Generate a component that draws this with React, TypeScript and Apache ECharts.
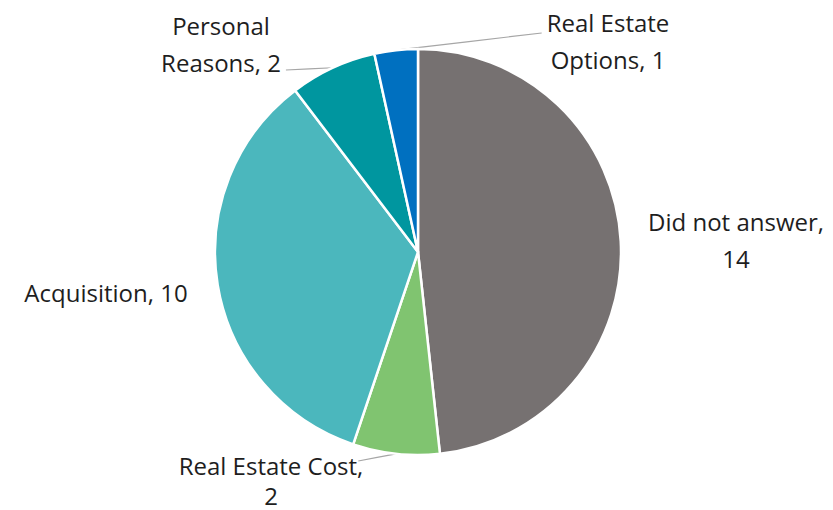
import React, { useEffect, useRef } from "react";
import * as echarts from "echarts";

const categories = ["Did not answer", "Real Estate Cost", "Acquisition", "Personal Reasons", "Real Estate Options"];
const values = [14, 2, 10, 2, 1];
const colors = ["#767171", "#80C470", "#4BB7BD", "#00969F", "#0070C0"];
// label text line breaks (how each label is wrapped)
const labelTexts = ["Did not answer,\n14", "Real Estate Cost,\n2", "Acquisition, 10", "Personal\nReasons, 2", "Real Estate\nOptions, 1"];
const showLines = [false, true, false, true, true];
const labelLineHeights = [37, 30, 37, 37, 37];
// label anchor positions (centre of text block)
const labelPos = [
  [736, 240],
  [271, 480],
  [106, 292],
  [221, 44],
  [608, 41],
];
// where each leader line meets its label: [side of label (-1 left, 1 right), x inset, y offset from label centre]
const lineEnds = [
  [0, 0, 0],
  [1, -5, -19],
  [0, 0, 0],
  [1, 5, 26],
  [-1, 5, -8],
];

export default function App() {
  const ref = useRef<HTMLDivElement>(null);
  useEffect(() => {
    const chart = echarts.init(ref.current!, null, { renderer: "svg" });
    chart.setOption({
      animation: false,
      backgroundColor: "#ffffff",
      series: [
        {
          type: "pie",
          center: [418, 252],
          radius: [0, 203],
          startAngle: 90,
          clockwise: true,
          avoidLabelOverlap: false,
          itemStyle: { borderColor: "#ffffff", borderWidth: 2.5 },
          label: {
            show: true,
            position: "outside",
            fontFamily: "Open Sans",
            fontSize: 24,
            lineHeight: 37,
            color: "#1e1e1e",
            align: "center",
            formatter: (p: any) => labelTexts[p.dataIndex],
          },
          labelLine: { show: true, lineStyle: { color: "#A6A6A6", width: 1.2 }, length: 10, length2: 10 },
          labelLayout: (p: any) => {
            const i = p.dataIndex;
            const [cx, cy] = labelPos[i];
            const out: any = { x: cx, y: cy, align: "center", verticalAlign: "middle" };
            if (showLines[i] && p.labelLinePoints && p.labelLinePoints.length) {
              const w = p.labelRect.width;
              const [side, inset, dy] = lineEnds[i];
              const start = p.labelLinePoints[0];
              const end = [cx + side * (w / 2 + inset), cy + dy];
              out.labelLinePoints = [start, [(start[0] + end[0]) / 2, (start[1] + end[1]) / 2], end];
            }
            return out;
          },
          data: categories.map((c, i) => ({
            name: c,
            value: values[i],
            itemStyle: { color: colors[i] },
            label: { lineHeight: labelLineHeights[i] },
            labelLine: { show: showLines[i] },
          })),
        },
      ],
    });
    return () => chart.dispose();
  }, []);
  return <div ref={ref} style={{ position: "fixed", left: 0, top: 0, width: 833, height: 510 }} />;
}
